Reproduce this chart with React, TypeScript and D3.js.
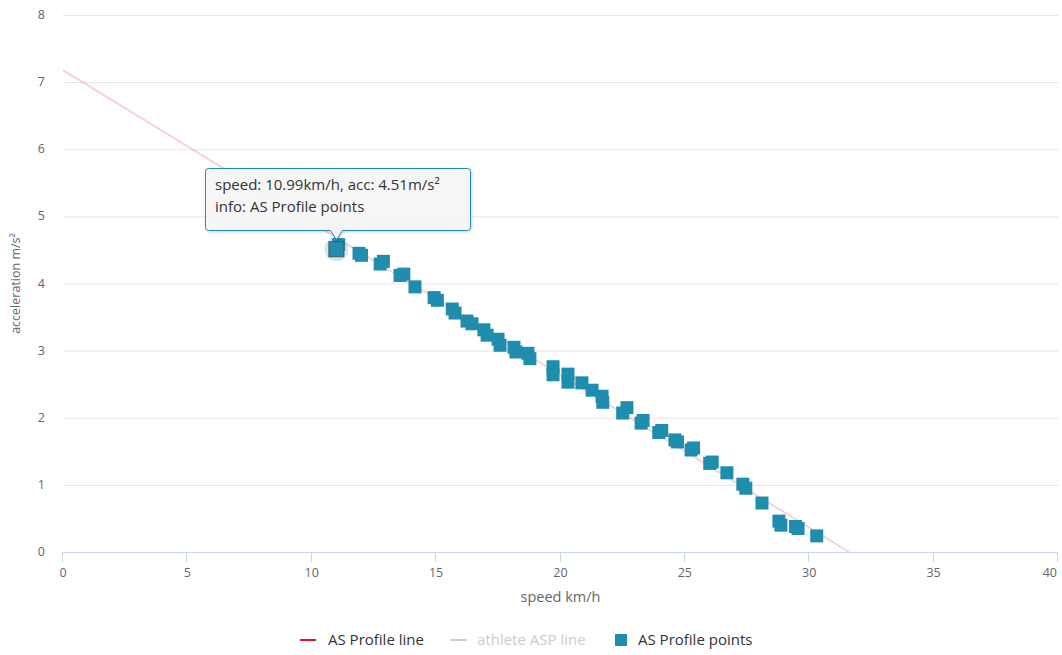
import { useEffect, useRef } from 'react';
import * as d3 from 'd3';

// AS Profile line (end points of the fitted line)
const lineSpeed = [0, 31.6];
const lineAcc = [7.18, 0];

// AS Profile points
const pointSpeed = [
  11.08, 11.9, 12.0, 12.75, 12.88, 13.55, 13.7, 14.15, 14.92, 15.05,
  15.65, 15.76, 16.24, 16.44, 16.92, 17.05, 17.49, 17.57, 18.13, 18.21,
  18.69, 18.77, 19.7, 19.7, 20.3, 20.3, 20.86, 21.27, 21.67, 21.7,
  22.5, 22.67, 23.24, 23.32, 23.95, 24.07, 24.6, 24.7, 25.25, 25.35,
  26.0, 26.1, 26.69, 27.33, 27.45, 28.1, 28.78, 28.86, 29.45, 29.55, 30.3,
];
const pointAcc = [
  4.58, 4.45, 4.42, 4.29, 4.33, 4.12, 4.14, 3.95, 3.79, 3.75,
  3.62, 3.56, 3.44, 3.4, 3.31, 3.23, 3.17, 3.08, 3.05, 2.98,
  2.96, 2.88, 2.76, 2.64, 2.65, 2.53, 2.52, 2.41, 2.32, 2.23,
  2.07, 2.15, 1.92, 1.96, 1.78, 1.81, 1.67, 1.64, 1.52, 1.55,
  1.32, 1.34, 1.18, 1.01, 0.95, 0.73, 0.46, 0.4, 0.38, 0.35, 0.24,
];

// hovered point
const hoverSpeed = 10.99;
const hoverAcc = 4.51;

const xTicks = [0, 5, 10, 15, 20, 25, 30, 35, 40];
const yTicks = [0, 1, 2, 3, 4, 5, 6, 7, 8];

const legendItems = ['AS Profile line', 'athlete ASP line', 'AS Profile points'];

const App = () => {
  const svgRef = useRef<SVGSVGElement>(null);

  useEffect(() => {
    const width = 1062;
    const height = 655;
    const margin = { top: 15, right: 4, bottom: 103, left: 63 };
    const font = '"Open Sans", sans-serif';
    const pointColor = '#1f8dad';
    const lineColor = '#dc143c';

    const svg = d3.select(svgRef.current)
      .attr('width', width)
      .attr('height', height)
      .style('font-family', font);

    svg.selectAll('*').remove();

    const x = d3.scaleLinear().domain([0, 40]).range([margin.left, width - margin.right]);
    const y = d3.scaleLinear().domain([0, 8]).range([height - margin.bottom, margin.top]);

    // grid lines
    svg.append('g')
      .selectAll('line')
      .data(yTicks.slice(1))
      .enter()
      .append('line')
      .attr('x1', x(0))
      .attr('x2', x(40))
      .attr('y1', d => y(d) + 0.5)
      .attr('y2', d => y(d) + 0.5)
      .attr('stroke', '#e6e6e6');

    // y labels
    svg.append('g')
      .selectAll('text')
      .data(yTicks)
      .enter()
      .append('text')
      .attr('x', 45)
      .attr('y', d => y(d) + 4)
      .attr('text-anchor', 'end')
      .attr('font-size', 12.5)
      .attr('fill', '#666666')
      .text(d => d);

    // x axis
    const xAxis = svg.append('g');
    xAxis.append('line')
      .attr('x1', x(0))
      .attr('x2', x(40))
      .attr('y1', y(0) + 0.5)
      .attr('y2', y(0) + 0.5)
      .attr('stroke', '#ccd6eb');
    xAxis.selectAll('line.tick')
      .data(xTicks)
      .enter()
      .append('line')
      .attr('class', 'tick')
      .attr('x1', d => Math.round(x(d)) - 0.5)
      .attr('x2', d => Math.round(x(d)) - 0.5)
      .attr('y1', y(0))
      .attr('y2', y(0) + 10)
      .attr('stroke', '#ccd6eb');
    xAxis.selectAll('text')
      .data(xTicks)
      .enter()
      .append('text')
      .attr('x', (d, i) => (i === xTicks.length - 1 ? x(d) - 1 : x(d)))
      .attr('y', y(0) + 25)
      .attr('text-anchor', (d, i) => (i === xTicks.length - 1 ? 'end' : 'middle'))
      .attr('font-size', 12.5)
      .attr('fill', '#666666')
      .text(d => d);

    // axis titles
    svg.append('text')
      .attr('x', (x(0) + x(40)) / 2)
      .attr('y', 602)
      .attr('text-anchor', 'middle')
      .attr('font-size', 14.5)
      .attr('fill', '#666666')
      .text('speed km/h');

    svg.append('text')
      .attr('transform', `translate(20, ${(y(0) + y(8)) / 2}) rotate(-90)`)
      .attr('text-anchor', 'middle')
      .attr('font-size', 12.5)
      .attr('fill', '#666666')
      .text('acceleration m/s²');

    // AS Profile line (inactive state)
    const line = d3.line<number>()
      .x((d, i) => x(lineSpeed[i]))
      .y(d => y(d));
    svg.append('path')
      .datum(lineAcc)
      .attr('d', line)
      .attr('fill', 'none')
      .attr('stroke', lineColor)
      .attr('stroke-width', 2)
      .attr('opacity', 0.2);

    // points
    const size = 13;
    svg.append('g')
      .selectAll('rect')
      .data(pointSpeed)
      .enter()
      .append('rect')
      .attr('x', d => x(d) - size / 2)
      .attr('y', (d, i) => y(pointAcc[i]) - size / 2)
      .attr('width', size)
      .attr('height', size)
      .attr('fill', pointColor);

    // hovered point with halo
    const hx = x(hoverSpeed);
    const hy = y(hoverAcc);
    svg.append('circle')
      .attr('cx', hx)
      .attr('cy', hy)
      .attr('r', 12)
      .attr('fill', pointColor)
      .attr('opacity', 0.2);
    svg.append('rect')
      .attr('x', hx - 7.5)
      .attr('y', hy - 7.5)
      .attr('width', 15)
      .attr('height', 15)
      .attr('fill', pointColor)
      .attr('stroke', '#555555')
      .attr('stroke-width', 1);

    // tooltip
    const defs = svg.append('defs');
    const filter = defs.append('filter').attr('id', 'shadow').attr('x', '-10%').attr('y', '-10%').attr('width', '130%').attr('height', '140%');
    filter.append('feDropShadow')
      .attr('dx', 1)
      .attr('dy', 1)
      .attr('stdDeviation', 1.5)
      .attr('flood-color', '#000000')
      .attr('flood-opacity', 0.2);

    const tx = 205.5;
    const ty = 168.5;
    const tw = 265;
    const th = 62;
    const r = 3;
    const px = Math.round(hx) + 0.5;
    const tip = d3.path();
    tip.moveTo(tx + r, ty);
    tip.lineTo(tx + tw - r, ty);
    tip.arcTo(tx + tw, ty, tx + tw, ty + r, r);
    tip.lineTo(tx + tw, ty + th - r);
    tip.arcTo(tx + tw, ty + th, tx + tw - r, ty + th, r);
    tip.lineTo(px + 6, ty + th);
    tip.lineTo(px, ty + th + 9);
    tip.lineTo(px - 6, ty + th);
    tip.lineTo(tx + r, ty + th);
    tip.arcTo(tx, ty + th, tx, ty + th - r, r);
    tip.lineTo(tx, ty + r);
    tip.arcTo(tx, ty, tx + r, ty, r);
    tip.closePath();

    svg.append('path')
      .attr('d', tip.toString())
      .attr('fill', 'rgba(247,247,247,0.92)')
      .attr('stroke', pointColor)
      .attr('stroke-width', 1)
      .attr('filter', 'url(#shadow)');

    const tipText = svg.append('text')
      .attr('font-size', 15)
      .attr('fill', '#333333');
    tipText.append('tspan')
      .attr('x', 215)
      .attr('y', 190)
      .text(`speed: ${hoverSpeed}km/h, acc: ${hoverAcc}m/s²`);
    tipText.append('tspan')
      .attr('x', 215)
      .attr('y', 212)
      .text('info: AS Profile points');

    // legend
    const legend = svg.append('g').attr('font-size', 15);
    const legendX = [300, 451, 615];
    const legendY = 640;
    legendItems.forEach((name, i) => {
      const g = legend.append('g').attr('transform', `translate(${legendX[i]}, ${legendY})`);
      if (i < 2) {
        g.append('line')
          .attr('x1', 0)
          .attr('x2', 16)
          .attr('y1', 0)
          .attr('y2', 0)
          .attr('stroke', i === 0 ? lineColor : '#cccccc')
          .attr('stroke-width', 2);
      } else {
        g.append('rect')
          .attr('x', 0)
          .attr('y', -6)
          .attr('width', 12)
          .attr('height', 12)
          .attr('fill', pointColor);
      }
      g.append('text')
        .attr('x', i < 2 ? (i === 0 ? 28 : 26) : 23)
        .attr('y', 5)
        .attr('fill', i === 1 ? '#cccccc' : '#333333')
        .text(name);
    });
  }, []);

  return <svg ref={svgRef} style={{ position: 'absolute', left: 0, top: 0 }}></svg>;
};

export default App;
